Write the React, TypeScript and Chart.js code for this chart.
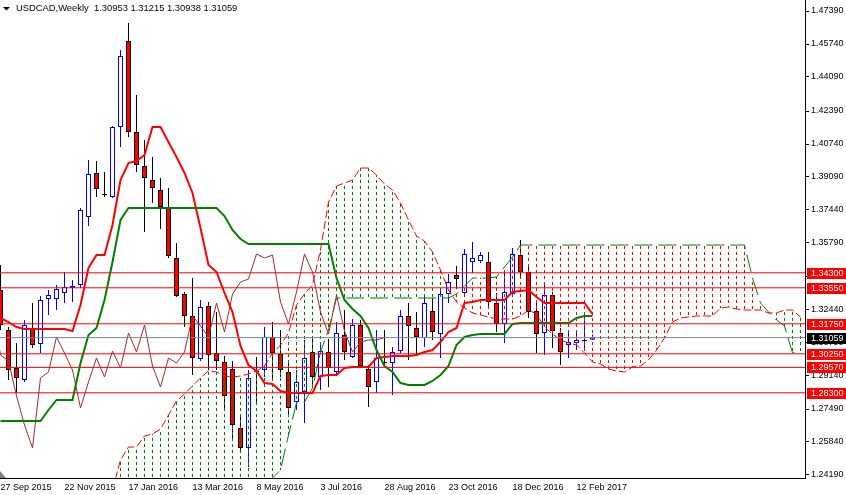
import React, { useEffect, useRef } from "react";
import { Chart, registerables } from "chart.js";

Chart.register(...registerables);

const FONT = '"Liberation Sans", Arial, sans-serif';
const SYMBOL = "USDCAD";
const PERIOD = "Weekly";

// Weekly candles, 27 Sep 2015 .. 26 Feb 2017 (bar index 0..74)
const OPEN = [1.3344,1.3144,1.2954,1.2894,1.3154,1.3074,1.3299,1.3299,1.3329,1.3354,
1.3369,1.3709,1.3929,1.3824,1.3809,1.4159,1.4589,1.4134,1.3964,1.3894,
1.3844,1.3759,1.3504,1.3324,1.3214,1.2999,1.3264,1.3029,1.2984,1.2949,
1.2654,1.2554,1.2939,1.2944,1.3109,1.3024,1.2934,1.2784,1.2834,1.3034,
1.2909,1.3034,1.2934,1.3119,1.3009,1.3169,1.2949,1.2884,1.2984,1.2979,
1.3039,1.3214,1.3154,1.3104,1.3239,1.3124,1.3324,1.3419,1.3329,1.3484,
1.3489,1.3484,1.3279,1.3174,1.3324,1.3519,1.3434,1.3239,1.3129,1.3319,
1.3129,1.3069,1.3079,1.3089,1.30953];
const HIGH = [1.3469,1.3159,1.3079,1.3194,1.3279,1.3314,1.3344,1.3369,1.3434,1.3394,
1.3754,1.3994,1.3989,1.3934,1.4164,1.4544,1.4679,1.4319,1.4094,1.4009,
1.3904,1.3854,1.3579,1.3334,1.3404,1.3294,1.3284,1.3234,1.3014,1.2989,
1.2719,1.2944,1.3009,1.3159,1.3184,1.3144,1.2984,1.2944,1.3094,1.3109,
1.3084,1.3099,1.3184,1.3244,1.3199,1.3194,1.2969,1.3144,1.3144,1.3059,
1.3244,1.3279,1.3234,1.3309,1.3304,1.3349,1.3424,1.3464,1.3549,1.3584,
1.3534,1.3534,1.3329,1.3434,1.3554,1.3594,1.3459,1.3284,1.3374,1.3334,
1.3154,1.3129,1.3134,1.3209,1.31215];
const LOW = [1.3144,1.2894,1.2829,1.2884,1.3054,1.3029,1.3219,1.3244,1.3279,1.3284,
1.3354,1.3664,1.3809,1.3809,1.3804,1.4059,1.4109,1.3934,1.3634,1.3779,
1.3649,1.3504,1.3309,1.3159,1.2919,1.2989,1.2944,1.2944,1.2744,1.2594,
1.2529,1.2459,1.2769,1.2909,1.2894,1.2909,1.2709,1.2744,1.2679,1.2859,
1.2844,1.2859,1.2924,1.2994,1.3004,1.2954,1.2759,1.2829,1.2969,1.2819,
1.3029,1.2994,1.3019,1.3059,1.3094,1.3004,1.3279,1.3349,1.3314,1.3429,
1.3479,1.3259,1.3134,1.3079,1.3314,1.3404,1.3204,1.3029,1.3019,1.3054,
1.2969,1.3004,1.3044,1.3044,1.30938];
const CLOSE = [1.3169,1.2944,1.2904,1.3169,1.3069,1.3294,1.3319,1.3349,1.3359,1.3364,
1.3744,1.3924,1.3849,1.3819,1.4159,1.4514,1.4134,1.3969,1.3904,1.3854,
1.3759,1.3514,1.3314,1.3214,1.3004,1.3259,1.3019,1.2989,1.2814,1.2669,
1.2554,1.2904,1.2934,1.3109,1.3029,1.2944,1.2754,1.2884,1.3004,1.2909,
1.3039,1.2954,1.3129,1.3034,1.3169,1.2964,1.2859,1.3004,1.2979,1.3034,
1.3214,1.3164,1.3109,1.3279,1.3134,1.3324,1.3384,1.3399,1.3524,1.3504,
1.3519,1.3284,1.3174,1.3334,1.3524,1.3434,1.3234,1.3124,1.3319,1.3139,
1.3034,1.3084,1.3094,1.3094,1.31059];

// Ichimoku lines (bar index 0..74)
const TENKAN = [1.3204,1.3184,1.3159,1.3149,1.3149,1.3149,1.3149,1.3149,1.3149,1.3139,
1.3269,1.3454,1.3519,1.3519,1.3669,1.3894,1.3979,1.3989,1.4019,1.4159,
1.4159,1.4084,1.4009,1.3929,1.3829,1.3654,1.3469,1.3434,1.3329,1.3234,
1.3064,1.2969,1.2939,1.2879,1.2874,1.2839,1.2829,1.2829,1.2829,1.2829,
1.2914,1.2919,1.2919,1.2954,1.2959,1.2959,1.2959,1.3004,1.3009,1.3014,
1.3014,1.3014,1.3019,1.3034,1.3044,1.3084,1.3134,1.3154,1.3279,1.3284,
1.3294,1.3294,1.3294,1.3294,1.3334,1.3339,1.3344,1.3309,1.3279,1.3279,
1.3279,1.3279,1.3279,1.3279,1.3224];
const KIJUN = [1.2689,1.2689,1.2689,1.2689,1.2689,1.2689,1.2744,1.2794,1.2794,1.2794,
1.2979,1.3119,1.3154,1.3294,1.3484,1.3694,1.3754,1.3754,1.3754,1.3754,
1.3754,1.3754,1.3754,1.3754,1.3754,1.3754,1.3754,1.3754,1.3714,1.3644,
1.3599,1.3574,1.3574,1.3574,1.3574,1.3574,1.3574,1.3574,1.3574,1.3574,
1.3574,1.3574,1.3404,1.3294,1.3249,1.3214,1.3154,1.3044,1.2964,1.2934,
1.2879,1.2869,1.2869,1.2869,1.2889,1.2919,1.2964,1.3069,1.3109,1.3119,
1.3124,1.3124,1.3124,1.3124,1.3174,1.3179,1.3179,1.3179,1.3179,1.3179,
1.3179,1.3179,1.3204,1.3214,1.3214];

// Senkou spans, bar index 14..100 (cloud projected 26 bars ahead)
const SPAN_START = 14;
const SPAN_A = [1.2344,1.2494,1.2559,1.2559,1.2614,1.2624,1.2649,1.2719,1.2789,1.2824,
1.2864,1.2904,1.2939,1.2934,1.2914,1.2909,1.2914,1.2924,1.2939,1.2964,
1.3029,1.3069,1.3129,1.3269,1.3324,1.3369,1.3544,1.3784,1.3864,1.3879,
1.3894,1.3954,1.3954,1.3919,1.3874,1.3844,1.3779,1.3694,1.3614,1.3589,
1.3534,1.3444,1.3344,1.3284,1.3254,1.3229,1.3219,1.3209,1.3199,1.3199,
1.3199,1.3214,1.3244,1.3224,1.3159,1.3124,1.3094,1.3079,1.3069,1.3029,
1.2984,1.2974,1.2949,1.2939,1.2934,1.2959,1.2964,1.2994,1.3044,1.3104,
1.3184,1.3204,1.3209,1.3214,1.3214,1.3214,1.3254,1.3259,1.3249,1.3244,
1.3244,1.3244,1.3229,1.3229,1.3244,1.3244,1.3209];
const SPAN_B = [1.2250,1.2250,1.2250,1.2250,1.2250,1.2250,1.2250,1.2250,1.2250,1.2250,
1.2250,1.2250,1.2250,1.2250,1.2250,1.2250,1.2250,1.2250,1.2344,1.2384,
1.2404,1.2444,1.2619,1.2779,1.2784,1.2854,1.3034,1.3144,1.3304,1.3304,
1.3304,1.3304,1.3304,1.3304,1.3304,1.3304,1.3304,1.3304,1.3304,1.3304,
1.3304,1.3304,1.3304,1.3324,1.3364,1.3404,1.3404,1.3404,1.3409,1.3459,
1.3509,1.3569,1.3569,1.3569,1.3569,1.3569,1.3569,1.3569,1.3569,1.3569,
1.3569,1.3569,1.3569,1.3569,1.3569,1.3569,1.3569,1.3569,1.3569,1.3569,
1.3569,1.3569,1.3569,1.3569,1.3569,1.3569,1.3569,1.3569,1.3569,1.3569,
1.3404,1.3279,1.3234,1.3194,1.3164,1.3029,1.3029];
const CHIKOU_SHIFT = 26;

// Horizontal support / resistance levels
const LEVELS = [1.343, 1.3355, 1.3175, 1.3025, 1.2957, 1.283];

// Axes
const DATE_TICKS = [0, 8, 16, 24, 32, 40, 48, 56, 64, 72];
const DATE_LABELS = ["27 Sep 2015","22 Nov 2015","17 Jan 2016","13 Mar 2016","8 May 2016","3 Jul 2016","28 Aug 2016","23 Oct 2016","18 Dec 2016","12 Feb 2017"];
const Y_TICKS = [1.2419,1.2584,1.2749,1.2914,1.3079,1.3244,1.3414,1.3579,1.3744,1.3909,1.4074,1.4239,1.4409,1.4574,1.4739];
const X_MIN = -0.0625, X_MAX = 100.5625;
const Y_MIN = 1.2404, Y_MAX = 1.4794;

const BLUE = "#0000ff";
const RED = "#ff0000";
const GREEN = "#008000";

export default function App() {
  const ref = useRef<HTMLCanvasElement>(null);

  useEffect(() => {
    document.body.style.margin = "0";
    const canvas = ref.current!;
    const ctx0 = canvas.getContext("2d")!;
    const mkPattern = (color: string) => {
      const c = document.createElement("canvas");
      c.width = 1; c.height = 6;
      const g = c.getContext("2d")!;
      g.fillStyle = color;
      g.fillRect(0, 0, 1, 3);
      return ctx0.createPattern(c, "repeat")!;
    };

    const n = OPEN.length;
    const bull = (i: number) => CLOSE[i] >= OPEN[i];
    const wickData = OPEN.map((_, i) => ({ x: i, y: [LOW[i], HIGH[i]] }));
    const bodyData = OPEN.map((o, i) => ({ x: i, y: [o, CLOSE[i]] }));
    const greenHatch: any[] = [];
    const redHatch: any[] = [];
    SPAN_A.forEach((a, k) => {
      const b = SPAN_B[k];
      const p = { x: SPAN_START + k, y: [Math.min(a, b), Math.max(a, b)] };
      (a >= b ? greenHatch : redHatch).push(p);
    });
    const line = (data: any[], color: string, width: number, order: number, dash: number[] = []) => ({
      type: "line", data, borderColor: color, borderWidth: width, pointRadius: 0,
      tension: 0, fill: false, borderDash: dash, order, clip: 0,
    });
    const idxSeries = (arr: number[], start: number) => arr.map((v, k) => ({ x: start + k, y: v }));
    const chikou = CLOSE.map((c, i) => ({ x: i - CHIKOU_SHIFT, y: c })).filter(p => p.x >= -1);

    const datasets: any[] = [
      { type: "bar", data: wickData, backgroundColor: OPEN.map((_, i) => bull(i) ? BLUE : "#000"),
        barThickness: 1, grouped: false, inflateAmount: 0, borderWidth: 0, order: 20, clip: 0 },
      { type: "bar", data: bodyData, backgroundColor: OPEN.map((_, i) => bull(i) ? "#fff" : RED),
        borderColor: OPEN.map((_, i) => bull(i) ? BLUE : "#000"), borderWidth: 1, borderSkipped: false,
        barThickness: 5, grouped: false, inflateAmount: 0, order: 19, clip: 0 },
      { type: "bar", data: greenHatch, backgroundColor: mkPattern(GREEN), barThickness: 1,
        grouped: false, inflateAmount: 0, borderWidth: 0, order: 18, clip: 0 },
      { type: "bar", data: redHatch, backgroundColor: mkPattern(RED), barThickness: 1,
        grouped: false, inflateAmount: 0, borderWidth: 0, order: 18, clip: 0 },
      line(idxSeries(SPAN_A, SPAN_START), RED, 1, 17, [8, 3]),
      line(idxSeries(SPAN_B, SPAN_START), GREEN, 1, 17, [18, 6]),
      line(chikou, "#a52a2a", 1, 16),
      line(idxSeries(TENKAN, 0), RED, 2, 15),
      line(idxSeries(KIJUN, 0), GREEN, 2, 14),
      ...LEVELS.map(v => line([{ x: X_MIN, y: v }, { x: X_MAX, y: v }], RED, 1, 5)),
      line([{ x: X_MIN, y: CLOSE[n - 1] }, { x: X_MAX, y: CLOSE[n - 1] }], "#778899", 1, 4),
    ];

    const title = `${SYMBOL},${PERIOD}  ${OPEN[n - 1].toFixed(5)} ${HIGH[n - 1].toFixed(5)} ${LOW[n - 1].toFixed(5)} ${CLOSE[n - 1].toFixed(5)}`;

    const overlay = {
      id: "overlay",
      afterDraw(chart: any) {
        const { ctx, chartArea } = chart;
        const y = chart.scales.y;
        ctx.save();
        ctx.fillStyle = "#000";
        ctx.beginPath();
        ctx.moveTo(3, 7); ctx.lineTo(10, 7); ctx.lineTo(6.5, 10.5); ctx.closePath(); ctx.fill();
        ctx.font = `9.4px ${FONT}`;
        ctx.textAlign = "left";
        ctx.textBaseline = "middle";
        ctx.fillText(title, 16, 8.5);
        ctx.fillStyle = "#808080";
        ctx.beginPath();
        ctx.moveTo(0, chartArea.bottom - 7); ctx.lineTo(6, chartArea.bottom); ctx.lineTo(0, chartArea.bottom);
        ctx.closePath(); ctx.fill();
        const tag = (v: number, bg: string) => {
          const py = Math.round(y.getPixelForValue(v));
          ctx.fillStyle = bg;
          ctx.fillRect(chartArea.right + 2, py - 5, 39, 11);
          ctx.fillStyle = "#fff";
          ctx.font = `9px ${FONT}`;
          ctx.fillText(v.toFixed(5), chartArea.right + 6, py + 0.5);
        };
        LEVELS.forEach(v => tag(v, RED));
        tag(CLOSE[n - 1], "#000");
        ctx.restore();
      },
    };

    const chart = new Chart(canvas, {
      type: "bar",
      data: { datasets },
      options: {
        responsive: false,
        animation: false,
        events: [],
        layout: { padding: 0 },
        plugins: { legend: { display: false }, tooltip: { enabled: false }, title: { display: false } },
        scales: {
          x: {
            type: "linear", min: X_MIN, max: X_MAX, offset: false, position: "bottom",
            grid: { display: true, drawOnChartArea: false, drawTicks: false, offset: false },
            border: { display: true, color: "#000", width: 1 },
            ticks: {
              autoSkip: false, maxRotation: 0, minRotation: 0, align: "start", padding: 4,
              color: "#000", font: { family: FONT, size: 9 },
              callback: (_v: any, idx: number) => DATE_LABELS[idx] ?? "",
            },
            afterBuildTicks: (s: any) => { s.ticks = DATE_TICKS.map(v => ({ value: v })); },
            afterFit: (s: any) => { s.height = 17; s.paddingLeft = 0; s.paddingRight = 0; },
          },
          y: {
            type: "linear", position: "right", min: Y_MIN, max: Y_MAX,
            grid: { display: true, drawOnChartArea: false, drawTicks: true, tickLength: 4, color: "#000" },
            border: { display: true, color: "#000", width: 1 },
            ticks: {
              autoSkip: false, padding: 2, color: "#000", font: { family: FONT, size: 9 },
              callback: (v: any) => Number(v).toFixed(5),
            },
            afterBuildTicks: (s: any) => { s.ticks = Y_TICKS.map(v => ({ value: v })); },
            afterFit: (s: any) => { s.width = 41; s.paddingTop = 0; s.paddingBottom = 0; },
          },
        },
      } as any,
      plugins: [overlay],
    });
    return () => chart.destroy();
  }, []);

  return (
    <div style={{ width: 846, height: 495, background: "#fff" }}>
      <style>{`body{margin:0}`}</style>
      <canvas ref={ref} width={846} height={495} style={{ display: "block" }} />
    </div>
  );
}
